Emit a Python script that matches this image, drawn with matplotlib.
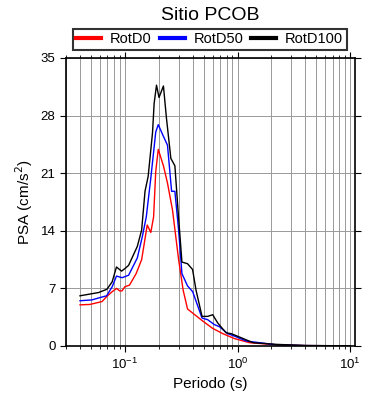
import matplotlib
matplotlib.use("Agg")
import matplotlib.pyplot as plt
from matplotlib.ticker import LogLocator, FixedLocator, NullFormatter
import numpy as np

plt.rcParams['font.family'] = ['Liberation Sans', 'DejaVu Sans']

# Periodo (s) y PSA (cm/s2)
t_d100 = [0.04, 0.0586, 0.0694, 0.0772, 0.0843, 0.0935, 0.1, 0.108, 0.129, 0.141,
          0.151, 0.161, 0.176, 0.182, 0.191, 0.201, 0.220, 0.234, 0.256, 0.278,
          0.298, 0.321, 0.360, 0.399, 0.428, 0.484, 0.543, 0.602, 0.667, 0.792,
          0.878, 1.08, 1.37, 2.2, 4.0, 10.0]
psa_d100 = [6.1, 6.5, 6.9, 7.8, 9.6, 9.1, 9.4, 9.8, 12.1, 14.1,
            18.8, 20.6, 25.9, 29.5, 31.7, 30.2, 31.6, 27.7, 22.8, 21.9,
            16.1, 10.2, 10.0, 9.3, 6.8, 3.6, 3.6, 3.8, 2.8, 1.6,
            1.5, 1.0, 0.4, 0.2, 0.06, 0.02]

t_d50 = [0.04, 0.051, 0.0607, 0.069, 0.0772, 0.0843, 0.0945, 0.108, 0.129, 0.143,
         0.155, 0.17, 0.188, 0.198, 0.218, 0.239, 0.26, 0.278, 0.3, 0.321,
         0.36, 0.4, 0.484, 0.543, 0.623, 0.69, 0.819, 0.94, 1.2, 2.2, 4.0, 10.0]
psa_d50 = [5.5, 5.6, 5.9, 6.1, 7.2, 8.5, 8.3, 8.6, 10.7, 13.3,
           15.7, 20.4, 26.0, 26.9, 25.6, 24.4, 18.8, 18.8, 14.1, 8.8,
           7.3, 6.6, 3.4, 3.2, 2.6, 2.35, 1.5, 1.2, 0.6, 0.15, 0.05, 0.02]

t_d0 = [0.04, 0.049, 0.0627, 0.069, 0.0772, 0.0843, 0.09, 0.0945, 0.1, 0.11,
        0.126, 0.141, 0.158, 0.17, 0.18, 0.188, 0.198, 0.22, 0.239, 0.265,
        0.3, 0.329, 0.36, 0.4, 0.484, 0.6, 0.74, 0.94, 1.28, 2.2, 4.0, 10.0]
psa_d0 = [5.0, 5.05, 5.4, 6.0, 6.6, 7.0, 6.7, 6.7, 7.2, 7.4,
          8.8, 10.5, 14.7, 13.8, 15.7, 21.2, 23.9, 21.9, 19.8, 16.5,
          10.5, 6.8, 4.5, 4.0, 3.1, 2.15, 1.5, 0.9, 0.4, 0.15, 0.05, 0.02]

yticks = [0, 7, 14, 21, 28, 35]

fig = plt.figure(figsize=(3.9, 4.0), dpi=100)
ax = fig.add_axes([0.169, 0.135, 0.741, 0.72])

ax.plot(t_d0, psa_d0, color='red', lw=1.0, label='RotD0')
ax.plot(t_d50, psa_d50, color='blue', lw=1.0, label='RotD50')
ax.plot(t_d100, psa_d100, color='black', lw=1.0, label='RotD100')

ax.set_xscale('log')
ax.set_xlim(0.03, 11)
ax.set_ylim(0, 35)
ax.yaxis.set_major_locator(FixedLocator(yticks))
ax.xaxis.set_major_locator(LogLocator(base=10, numticks=10))
ax.xaxis.set_minor_locator(LogLocator(base=10, subs=np.arange(2, 10), numticks=20))
ax.xaxis.set_minor_formatter(NullFormatter())

ax.grid(True, which='both', axis='x', color='#999999', lw=0.7)
ax.grid(True, which='major', axis='y', color='#999999', lw=0.7)

ax.tick_params(which='both', direction='out', top=True, right=True, labelsize=9.5)
ax.tick_params(which='major', length=4)
ax.tick_params(which='minor', length=2.5)
for s in ax.spines.values():
    s.set_linewidth(1.2)

ax.set_xlabel('Periodo (s)', fontsize=11)
ax.set_ylabel('PSA (cm/s$^2$)', fontsize=11)
fig.text(0.538, 0.962, 'Sitio PCOB', ha='center', va='center', fontsize=14)

leg = ax.legend(loc='lower left', bbox_to_anchor=(0.024, 1.028, 0.948, 0.08), mode='expand',
                ncol=3, fontsize=10.5, frameon=True, fancybox=False, edgecolor='black',
                borderpad=0.25, handlelength=1.7, handletextpad=0.6, borderaxespad=0)
leg.get_frame().set_linewidth(1.5)
for line in leg.get_lines():
    line.set_linewidth(3)

fig.savefig('out.png', dpi=100)
